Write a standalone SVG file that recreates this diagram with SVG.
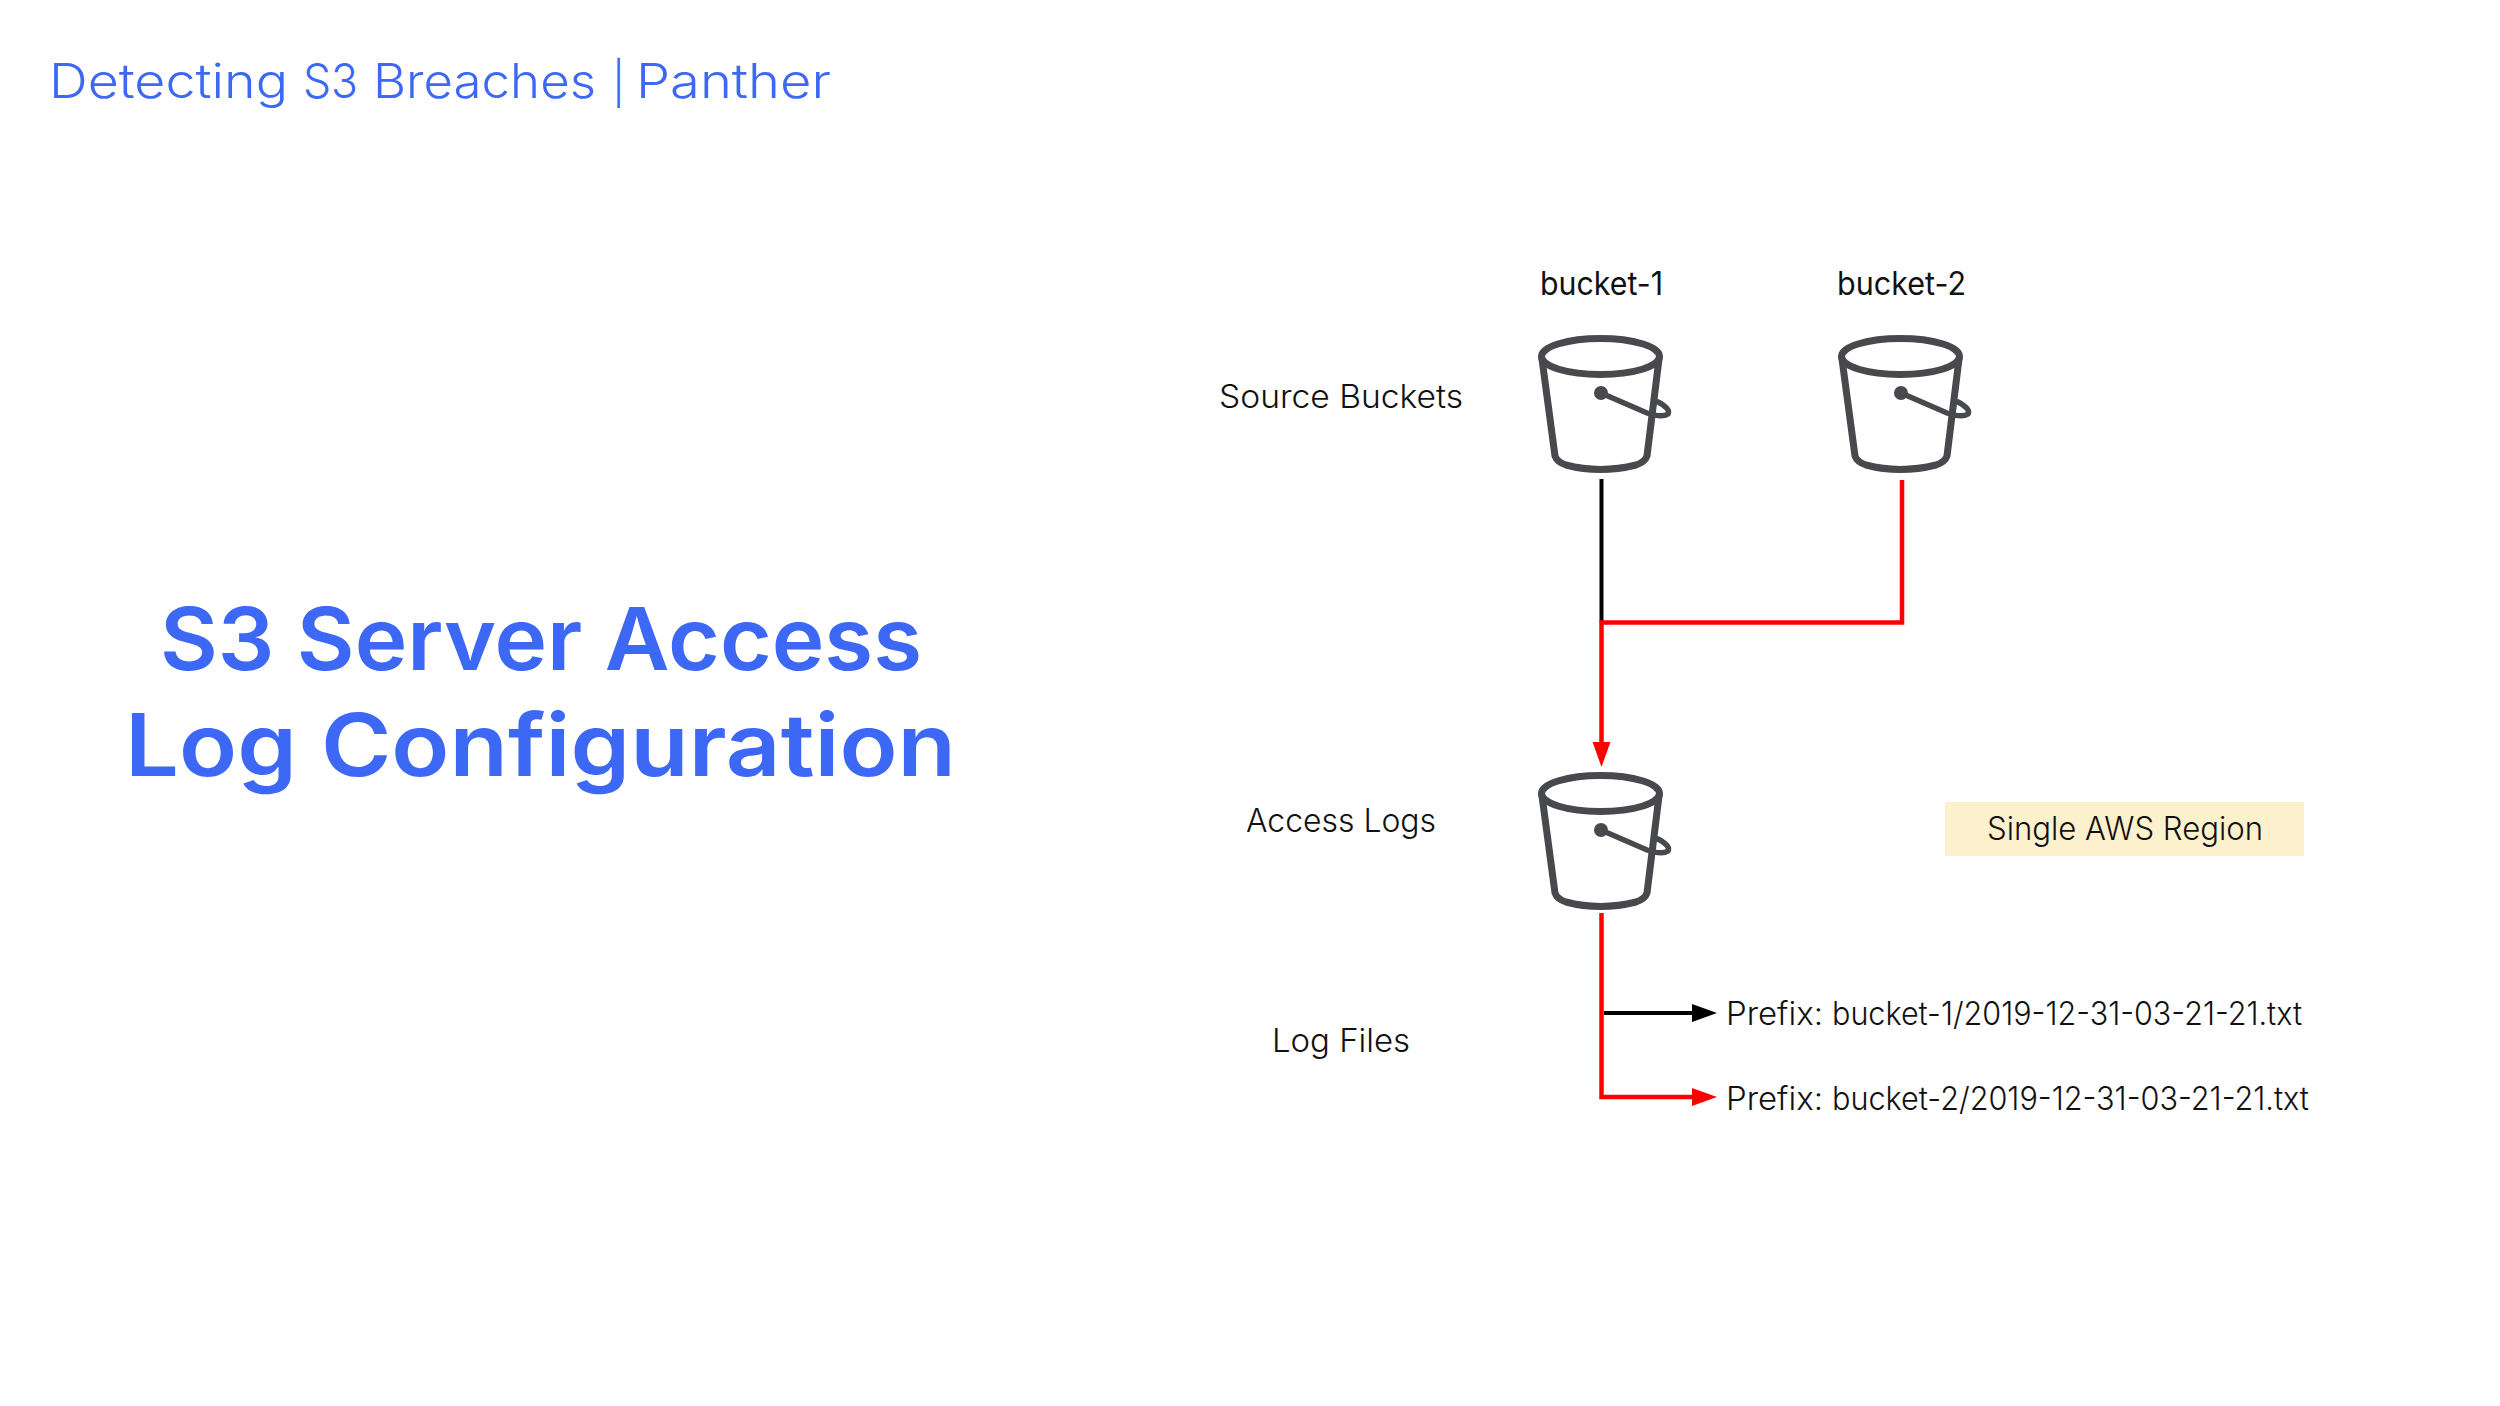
<svg xmlns="http://www.w3.org/2000/svg" xmlns:xlink="http://www.w3.org/1999/xlink" width="2500" height="1406" viewBox="0 0 2500 1406">
<style>
text{font-family:"Inter","Noto Sans",sans-serif}
.h{fill:#3d67f5}
.l{font-size:32px;fill:#111;font-weight:350}
.b{fill:none;stroke:#47494c;stroke-width:7;stroke-linejoin:round;stroke-linecap:round}
.t{fill:none;stroke:#47494c;stroke-width:5.500;stroke-linecap:round}
.r{fill:none;stroke:#f00;stroke-width:4.500}
.k{fill:none;stroke:#000;stroke-width:4}
</style>
<defs>
<g id="bucket">
<ellipse class="b" cx="1600.500" cy="356.500" rx="59" ry="18"/>
<path class="b" d="M1542 359L1555 456Q1557 462 1566 465Q1600 474 1636 465Q1645 462 1647 456L1659 359"/>
<path class="t" d="M1601 393L1647 413Q1662 418 1668 414Q1671 409 1658 402"/>
<circle cx="1601" cy="393" r="7" fill="#47494c"/>
</g>
</defs>
<rect width="2500" height="1406" fill="#fff"/>
<text class="h" y="98" font-size="48" font-weight="350"><tspan x="49" textLength="239" lengthAdjust="spacingAndGlyphs">Detecting</tspan> <tspan x="303" textLength="55" lengthAdjust="spacingAndGlyphs">S3</tspan> <tspan x="373" textLength="223" lengthAdjust="spacingAndGlyphs">Breaches</tspan> <tspan x="612" font-size="42">|</tspan> <tspan x="636" textLength="195" lengthAdjust="spacingAndGlyphs">Panther</tspan></text>
<text class="h" x="160" y="670" font-size="86" font-weight="600" textLength="762" lengthAdjust="spacingAndGlyphs">S3 Server Access</text>
<text class="h" x="125" y="776" font-size="86" font-weight="600" textLength="831" lengthAdjust="spacingAndGlyphs">Log Configuration</text>
<g id="connectors">
<path class="k" d="M1601.500 479V622"/>
<path class="r" d="M1902 480V622.500H1601.500V745"/>
<path fill="#f00" d="M1592.500 742H1610.500L1601.500 767Z"/>
<path class="r" d="M1601.500 913V1097H1695"/>
<path fill="#f00" d="M1692 1088V1106L1717 1097Z"/>
<path class="k" d="M1604 1013H1695"/>
<path d="M1692 1004V1022L1717 1013Z"/>
</g>
<g id="bucket-1"><use xlink:href="#bucket" href="#bucket"/><text class="l" x="1540" y="295" style="font-weight:420" textLength="123" lengthAdjust="spacingAndGlyphs">bucket-1</text></g>
<g id="bucket-2"><use href="#bucket" xlink:href="#bucket" x="300"/><text class="l" x="1837" y="295" style="font-weight:420" textLength="129" lengthAdjust="spacingAndGlyphs">bucket-2</text></g>
<g id="access-logs"><use href="#bucket" xlink:href="#bucket" y="437"/></g>
<g id="label-source"><text class="l" x="1219" y="408" textLength="244" lengthAdjust="spacingAndGlyphs">Source Buckets</text></g>
<g id="label-access"><text class="l" x="1246" y="832" textLength="190" lengthAdjust="spacingAndGlyphs">Access Logs</text></g>
<g id="label-logfiles"><text class="l" x="1272" y="1052" textLength="138" lengthAdjust="spacingAndGlyphs">Log Files</text></g>
<g id="region"><rect x="1945" y="802" width="359" height="54" fill="#fdf0cd"/><text class="l" x="1987" y="840" textLength="276" lengthAdjust="spacingAndGlyphs">Single AWS Region</text></g>
<g id="prefix-1"><text class="l" y="1025"><tspan x="1726" textLength="97" lengthAdjust="spacingAndGlyphs">Prefix:</tspan> <tspan x="1832" textLength="470" lengthAdjust="spacingAndGlyphs">bucket-1/2019-12-31-03-21-21.txt</tspan></text></g>
<g id="prefix-2"><text class="l" y="1110"><tspan x="1726" textLength="97" lengthAdjust="spacingAndGlyphs">Prefix:</tspan> <tspan x="1832" textLength="477" lengthAdjust="spacingAndGlyphs">bucket-2/2019-12-31-03-21-21.txt</tspan></text></g>
</svg>
